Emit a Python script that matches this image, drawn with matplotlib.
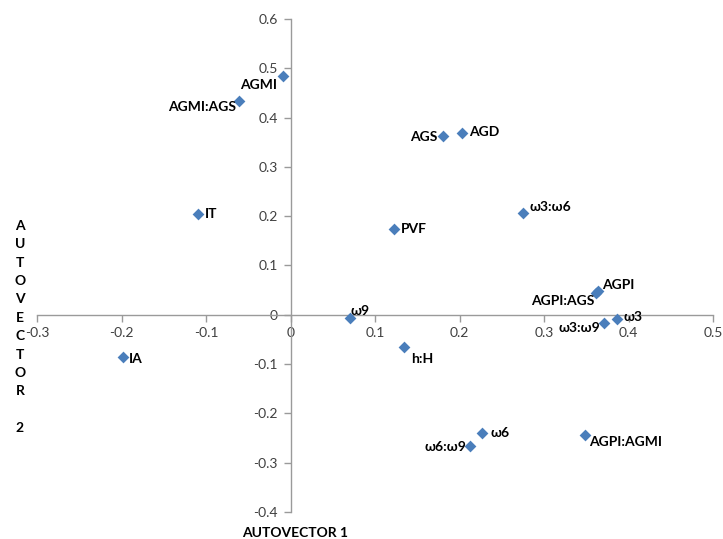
import matplotlib
matplotlib.use("Agg")
import matplotlib.pyplot as plt

# Component loadings on the first two autovectors
labels = ["AGMI", "AGMI:AGS", "AGS", "AGD", "ω3:ω6", "PVF", "IT", "AGPI",
          "AGPI:AGS", "ω3", "ω3:ω9", "ω9", "h:H", "IA", "ω6", "ω6:ω9", "AGPI:AGMI"]
autovector1 = [-0.009, -0.061, 0.180, 0.203, 0.275, 0.122, -0.110, 0.364,
               0.361, 0.386, 0.371, 0.071, 0.134, -0.198, 0.227, 0.213, 0.348]
autovector2 = [0.484, 0.433, 0.363, 0.368, 0.207, 0.174, 0.205, 0.049,
               0.045, -0.008, -0.016, -0.006, -0.065, -0.086, -0.240, -0.266, -0.243]

# label offsets (points) and alignment for each point
offsets = {
    "AGMI": (-4, -6, "right", "center"),
    "AGMI:AGS": (-2, -4, "right", "center"),
    "AGS": (-4, -1, "right", "center"),
    "AGD": (5, 1, "left", "center"),
    "ω3:ω6": (5, 4, "left", "center"),
    "PVF": (5, 0, "left", "center"),
    "IT": (5, 0, "left", "center"),
    "AGPI": (3, 4, "left", "center"),
    "AGPI:AGS": (-1, -6, "right", "center"),
    "ω3": (5, 1, "left", "center"),
    "ω3:ω9": (-3, -4, "right", "center"),
    "ω9": (0, 5, "left", "center"),
    "h:H": (5, -9, "left", "center"),
    "IA": (4, -1, "left", "center"),
    "ω6": (6, 0, "left", "center"),
    "ω6:ω9": (-3, -1, "right", "center"),
    "AGPI:AGMI": (3, -5, "left", "center"),
}

W, H = 723, 539
fig = plt.figure(figsize=(W / 100, H / 100), dpi=100)
ax = fig.add_axes([37 / W, (H - 512) / H, (713 - 37) / W, (512 - 19) / H])

font = "Lato"
axis_grey = "#9a9a9a"
text_col = "#404040"

ax.scatter(autovector1, autovector2, marker="D", s=36, color="#4a7ebb",
           edgecolors="#4a7ebb", linewidths=0, zorder=3)

for lab, x, y in zip(labels, autovector1, autovector2):
    dx, dy, ha, va = offsets[lab]
    ax.annotate(lab, (x, y), xytext=(dx, dy), textcoords="offset points",
                ha=ha, va=va, fontsize=10, fontweight="bold",
                family=[font, "DejaVu Sans"], color="#000000", zorder=4)

ax.set_xlim(-0.3, 0.5)
ax.set_ylim(-0.4, 0.6)

xt = [-0.3, -0.2, -0.1, 0, 0.1, 0.2, 0.3, 0.4, 0.5]
yt = [-0.4, -0.3, -0.2, -0.1, 0, 0.1, 0.2, 0.3, 0.4, 0.5, 0.6]
ax.set_xticks(xt)
ax.set_yticks(yt)
ax.set_xticklabels(["0" if v == 0 else f"{v:g}" for v in xt])
ax.set_yticklabels(["0" if v == 0 else f"{v:g}" for v in yt])

for side in ["top", "right"]:
    ax.spines[side].set_visible(False)
ax.spines["left"].set_position(("data", 0))
ax.spines["bottom"].set_position(("data", 0))
for side in ["left", "bottom"]:
    ax.spines[side].set_color(axis_grey)
    ax.spines[side].set_linewidth(1.0)

ax.tick_params(axis="both", direction="out", length=5, width=1.0,
               color=axis_grey, labelcolor=text_col, labelsize=10, pad=4)
for t in ax.get_xticklabels() + ax.get_yticklabels():
    t.set_family([font, "DejaVu Sans"])

# axis titles
fig.text(295 / W, 1 - 533 / H, "AUTOVECTOR 1", ha="center", va="center",
         fontsize=10, fontweight="bold", family=[font, "DejaVu Sans"])
fig.text(20 / W, 1 - 327 / H, "A\nU\nT\nO\nV\nE\nC\nT\nO\nR\n\n2",
         ha="center", va="center", fontsize=10, fontweight="bold",
         linespacing=1.64, family=[font, "DejaVu Sans"])

fig.savefig("out.png", dpi=100)
